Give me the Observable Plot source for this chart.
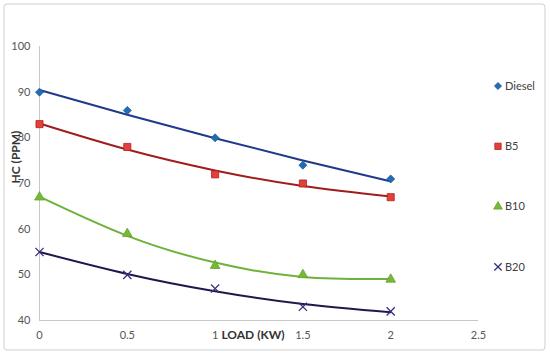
<!DOCTYPE html>
<html>
<head>
<meta charset="utf-8">
<script src="https://cdn.jsdelivr.net/npm/d3@7"></script>
<script src="https://cdn.jsdelivr.net/npm/@observablehq/plot@0.6"></script>
<style>
  html, body { margin: 0; padding: 0; background: #fff; }
  #chart { width: 550px; height: 355px; }
</style>
</head>
<body>
<div id="chart"></div>
<script>
const loads = [0, 0.5, 1, 1.5, 2];
const diesel = [90, 86, 80, 74, 71];
const b5 = [83, 78, 72, 70, 67];
const b10 = [67, 59, 52, 50, 49];
const b20 = [55, 50, 47, 43, 42];
const seriesNames = ["Diesel", "B5", "B10", "B20"];
const xTicks = [0, 0.5, 1, 1.5, 2, 2.5];
const xTickLabels = ["0", "0.5", "1", "1.5", "2", "2.5"];
const yTicks = [40, 50, 60, 70, 80, 90, 100];
const xLabel = "LOAD (KW)";
const yLabel = "HC (PPM)";

const styles = {
  "Diesel": {line: "#1f3a8a", fill: "#1f6db3", stroke: "#1f5a9e", symbol: "diamond2", r: 3.6},
  "B5":     {line: "#a11d1d", fill: "#e2403a", stroke: "#b3201c", symbol: "square", r: 4.0},
  "B10":    {line: "#70b13a", fill: "#77b83a", stroke: "#64a32c", symbol: "triangle", r: 3.6},
  "B20":    {line: "#1c1a4c", fill: "none", stroke: "#3b2f7c", symbol: "times", r: 3.8}
};

const valuesBySeries = [diesel, b5, b10, b20];
const points = [];
seriesNames.forEach((s, i) => {
  loads.forEach((x, j) => points.push({series: s, load: x, hc: valuesBySeries[i][j]}));
});

// quadratic least-squares trendline (as Excel's polynomial order 2)
function quadFit(xs, ys) {
  const n = xs.length;
  let S = [0,0,0,0,0], T = [0,0,0];
  for (let k = 0; k < n; k++) {
    const x = xs[k], y = ys[k];
    for (let p = 0; p < 5; p++) S[p] += Math.pow(x, p);
    for (let p = 0; p < 3; p++) T[p] += y * Math.pow(x, p);
  }
  const A = [[S[0],S[1],S[2],T[0]],[S[1],S[2],S[3],T[1]],[S[2],S[3],S[4],T[2]]];
  for (let c = 0; c < 3; c++) {
    for (let r = c + 1; r < 3; r++) {
      const f = A[r][c] / A[c][c];
      for (let k = c; k < 4; k++) A[r][k] -= f * A[c][k];
    }
  }
  const coef = [0,0,0];
  for (let r = 2; r >= 0; r--) {
    let s = A[r][3];
    for (let k = r + 1; k < 3; k++) s -= A[r][k] * coef[k];
    coef[r] = s / A[r][r];
  }
  return x => coef[0] + coef[1] * x + coef[2] * x * x;
}

const trend = [];
seriesNames.forEach((s, i) => {
  const f = quadFit(loads, valuesBySeries[i]);
  loads.forEach(x => trend.push({series: s, load: x, hc: f(x)}));
});

const font = "Lato, 'Open Sans', sans-serif";

const marks = [
  Plot.ruleX([0], {stroke: "#c8c8c8", strokeWidth: 1}),
  Plot.ruleY([40], {stroke: "#c8c8c8", strokeWidth: 1}),
  Plot.axisX({ticks: xTicks, tickSize: 0, tickPadding: 11, tickFormat: (d) => xTickLabels[xTicks.indexOf(d)], fontSize: 11, fill: "#555", label: null}),
  Plot.axisY({ticks: yTicks, tickSize: 0, tickPadding: 9, fontSize: 11, fill: "#555", label: null}),
  Plot.text([xLabel], {frameAnchor: "bottom", dx: -6, dy: 18, fontSize: 12, fontWeight: "bold", fill: "#333"}),
  Plot.text([yLabel], {frameAnchor: "left", dx: -23, dy: 0, rotate: -90, fontSize: 12, fontWeight: "bold", fill: "#333"})
];
seriesNames.forEach(s => {
  const st = styles[s];
  marks.push(Plot.line(trend.filter(d => d.series === s), {x: "load", y: "hc", stroke: st.line, strokeWidth: 2, curve: "natural"}));
});
seriesNames.forEach(s => {
  const st = styles[s];
  marks.push(Plot.dot(points.filter(d => d.series === s), {x: "load", y: "hc", symbol: st.symbol, r: st.r, fill: st.fill, stroke: st.stroke, strokeWidth: s === "B20" ? 1.3 : 0.8}));
});

const chart = Plot.plot({
  width: 550,
  height: 355,
  marginLeft: 39,
  marginRight: 72,
  marginTop: 46,
  marginBottom: 35,
  style: {fontFamily: font, background: "#fff"},
  x: {domain: [0, 2.5]},
  y: {domain: [40, 100]},
  marks
});

const svg = d3.select(chart);
svg.append("rect").attr("x", 4).attr("y", 4).attr("width", 541).attr("height", 346).attr("rx", 3)
  .attr("fill", "none").attr("stroke", "#cfcfcf").attr("stroke-width", 1);

const symMap = {diamond2: d3.symbolDiamond2, square: d3.symbolSquare, triangle: d3.symbolTriangle, times: d3.symbolTimes};
const lg = svg.append("g").attr("font-family", font).attr("font-size", 11).attr("fill", "#404040").attr("text-anchor", "start");
seriesNames.forEach((s, i) => {
  const st = styles[s];
  const y = 86 + i * 60.3;
  lg.append("path")
    .attr("d", d3.symbol().type(symMap[st.symbol]).size(Math.PI * st.r * st.r * 0.8)())
    .attr("transform", `translate(498,${y})`)
    .attr("fill", st.fill).attr("stroke", st.stroke).attr("stroke-width", s === "B20" ? 1.3 : 0.8);
  lg.append("text").attr("x", 505).attr("y", y).attr("dy", "0.35em").attr("text-anchor", "start").text(s);
});

document.getElementById("chart").appendChild(chart);
</script>
</body>
</html>
